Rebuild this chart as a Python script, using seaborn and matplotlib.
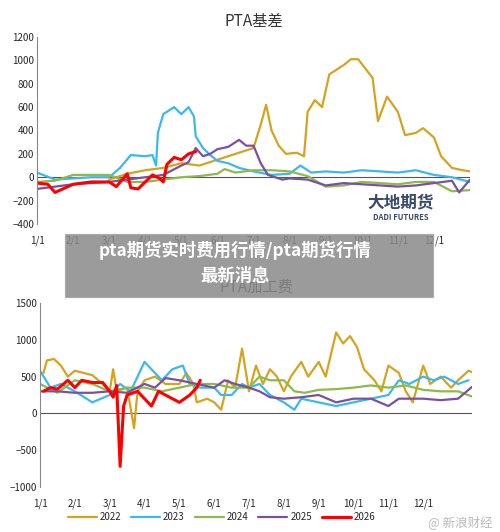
import numpy as np
import pandas as pd
import seaborn as sns
from matplotlib import pyplot as plt
from matplotlib.patches import Rectangle

sns.set_style('white')
plt.rcParams['font.family'] = ['Noto Sans CJK SC', 'DejaVu Sans']

months = ['1/1','2/1','3/1','4/1','5/1','6/1','7/1','8/1','9/1','10/1','11/1','12/1']
years = ['2022','2023','2024','2025','2026']
colors = {'2022':'#D4A420','2023':'#3CB8EE','2024':'#8CBA4C','2025':'#7B50A2','2026':'#FF0000'}

#%% PTA basis (x in months since 1/1)
basis_2022 = [(2.0,-20),(2.5,30),(3.0,60),(3.5,80),(4.0,120),(4.5,100),(5.0,150),(5.5,200),(6.0,250),(6.2,450),
              (6.35,620),(6.5,400),(6.7,270),(6.9,200),(7.2,210),(7.4,180),(7.5,560),(7.7,660),(7.9,600),(8.1,880),
              (8.3,920),(8.5,960),(8.7,1010),(8.9,1010),(9.3,850),(9.45,480),(9.7,690),(10.0,560),(10.2,360),
              (10.5,380),(10.7,420),(11.0,340),(11.2,180),(11.5,80),(11.8,60),(12.0,50)]
basis_2023 = [(0,40),(0.5,-20),(1.0,-10),(1.5,0),(2.0,0),(2.3,80),(2.6,190),(3.0,180),(3.2,190),(3.3,100),(3.35,380),
              (3.5,540),(3.8,600),(4.0,540),(4.2,600),(4.35,520),(4.4,350),(4.6,250),(4.8,190),(5.0,140),(5.3,120),
              (5.6,80),(6.0,50),(6.5,20),(7.0,30),(7.3,100),(7.6,40),(8.0,50),(8.5,40),(9.0,60),(9.5,50),(10.0,40),
              (10.5,60),(11.0,20),(11.5,0),(12.0,-40)]
basis_2024 = [(0,-40),(0.5,-30),(1.0,20),(1.5,20),(2.0,20),(2.5,-40),(3.0,-40),(3.5,-20),(4.0,0),(4.5,10),(5.0,30),
              (5.2,70),(5.5,40),(6.0,60),(6.5,60),(7.0,50),(7.5,10),(8.0,-80),(8.5,-70),(9.0,-40),(9.5,-50),(10.0,-60),
              (10.5,-40),(11.0,-40),(11.5,-120),(12.0,-110)]
basis_2025 = [(0,-100),(0.5,-80),(1.0,-60),(1.5,-50),(2.0,-40),(2.5,-20),(3.0,0),(3.5,20),(4.0,100),(4.2,130),(4.4,250),
              (4.6,180),(4.8,200),(5.0,240),(5.3,260),(5.6,320),(5.8,270),(6.0,270),(6.2,120),(6.4,20),(6.8,-20),
              (7.0,-10),(7.5,-20),(8.0,-70),(8.5,-50),(9.0,-60),(9.5,-70),(10.0,-80),(10.5,-70),(11.0,-50),(11.5,-30),
              (11.7,-130),(12.0,-20)]
basis_2026 = [(0,-50),(0.3,-60),(0.5,-130),(1.0,-60),(1.5,-40),(2.0,-40),(2.2,-80),(2.5,30),(2.6,-90),(2.8,-100),
              (3.0,-40),(3.2,20),(3.4,-10),(3.5,-40),(3.6,110),(3.8,170),(4.0,150),(4.2,200),(4.4,220)]

#%% PTA processing fee
fee_2022 = [(0.1,550),(0.2,720),(0.4,740),(0.6,650),(0.8,500),(1.0,580),(1.5,520),(1.8,400),(2.0,300),(2.1,600),
            (2.2,300),(2.5,350),(2.7,-200),(2.8,300),(3.0,450),(3.3,500),(3.6,400),(4.0,400),(4.2,550),(4.4,400),
            (4.5,150),(4.8,200),(5.0,150),(5.2,50),(5.4,450),(5.6,350),(5.8,880),(6.0,300),(6.2,650),(6.4,400),
            (6.6,600),(6.8,500),(7.0,300),(7.2,500),(7.5,700),(7.7,500),(8.0,700),(8.2,500),(8.5,1100),(8.7,950),
            (8.9,1050),(9.1,900),(9.3,600),(9.6,450),(9.8,300),(10.0,650),(10.3,550),(10.5,300),(10.7,150),
            (11.0,650),(11.2,400),(11.5,500),(11.8,350),(12.0,450),(12.3,580),(12.4,560)]
fee_2023 = [(0,580),(0.3,350),(0.6,400),(1.0,300),(1.5,150),(2.0,250),(2.3,400),(2.6,300),(2.8,500),(3.0,700),
            (3.2,600),(3.5,450),(3.8,600),(4.1,650),(4.3,400),(4.6,350),(5.0,350),(5.2,250),(5.5,250),(5.8,400),
            (6.0,350),(6.3,400),(6.6,250),(7.0,150),(7.3,50),(7.5,200),(8.0,150),(8.5,100),(9.0,150),(9.5,200),
            (10.0,250),(10.3,450),(10.6,400),(11.0,500),(11.3,450),(11.6,500),(12.0,400),(12.3,450)]
fee_2024 = [(0,400),(0.5,280),(1.0,450),(1.5,400),(2.0,300),(2.5,350),(3.0,350),(3.5,300),(4.0,350),(4.5,400),
            (5.0,400),(5.5,350),(6.0,350),(6.3,500),(6.6,450),(7.0,450),(7.3,300),(7.6,280),(8.0,320),(8.5,330),
            (9.0,350),(9.5,380),(10.0,350),(10.5,380),(11.0,320),(11.5,300),(12.0,300),(12.4,230)]
fee_2025 = [(0,300),(0.5,300),(1.0,280),(1.5,280),(2.0,300),(2.5,280),(3.0,400),(3.3,350),(3.6,480),(4.0,450),
            (4.5,400),(5.0,350),(5.3,450),(5.6,400),(6.0,350),(6.3,300),(6.6,220),(7.0,200),(7.5,220),(8.0,250),
            (8.5,150),(9.0,200),(9.5,200),(10.0,100),(10.3,200),(10.6,200),(11.0,200),(11.5,180),(12.0,200),(12.4,360)]
fee_2026 = [(0.1,300),(0.3,350),(0.5,330),(0.8,450),(1.0,350),(1.2,450),(1.5,420),(1.8,420),(2.0,300),(2.1,220),
            (2.2,380),(2.3,-720),(2.4,100),(2.5,250),(2.8,300),(3.0,200),(3.2,100),(3.4,300),(3.6,250),(3.8,200),
            (4.0,150),(4.3,250),(4.5,350),(4.6,450)]

basis = dict(zip(years, [basis_2022, basis_2023, basis_2024, basis_2025, basis_2026]))
fee = dict(zip(years, [fee_2022, fee_2023, fee_2024, fee_2025, fee_2026]))

W, H = 500, 532
fig = plt.figure(figsize=(5.0, 5.32), dpi=100)

def draw(ax, data, ylim, yticks, xmax, title, legend):
    for yr in years:
        df = pd.DataFrame(data[yr], columns=['m', 'v'])
        lw = 2.2 if yr == '2026' else 1.6
        sns.lineplot(data=df, x='m', y='v', color=colors[yr], lw=lw, ax=ax, sort=False, label=yr if legend else None)
    ax.axhline(0, color='#555555', lw=0.8, zorder=0)
    ax.set_xlim(0, xmax)
    ax.set_ylim(*ylim)
    ax.set_yticks(yticks)
    ax.set_xticks(np.arange(12))
    ax.set_xticklabels(months)
    ax.tick_params(labelsize=7, length=0, pad=2)
    ax.tick_params(axis='x', pad=8)
    for s in ['top', 'right', 'bottom']:
        ax.spines[s].set_visible(False)
    ax.spines['left'].set_color('#888888')
    ax.set_xlabel('')
    ax.set_ylabel('')
    ax.set_title(title, fontsize=11, color='#333333', pad=8)

ax1 = fig.add_axes([37/W, 1-224/H, 433/W, 187/H])
draw(ax1, basis, (-400, 1200), np.arange(-400, 1201, 200), 12.0, 'PTA基差', False)
ax1.text(0.84, 0.09, '大地期货', transform=ax1.transAxes, fontsize=12, weight='bold', color='#3A4A6A', ha='center')
ax1.text(0.84, 0.02, 'DADI FUTURES', transform=ax1.transAxes, fontsize=5.5, weight='bold', color='#3A4A6A', ha='center')

ax2 = fig.add_axes([40/W, 1-487/H, 432/W, 184/H])
draw(ax2, fee, (-1000, 1500), np.arange(-1000, 1501, 500), 12.4, 'PTA加工费', True)
ax2.legend(ncol=5, loc='upper center', bbox_to_anchor=(0.42, -0.09), frameon=False, fontsize=7,
           handlelength=3, columnspacing=1.0, handletextpad=0.3)
fig.text(0.985, 0.012, '@ 新浪财经', fontsize=9, color='#BBBBBB', ha='right')

fig.patches.append(Rectangle((64/W, 1-298/H), 370/W, 65/H, transform=fig.transFigure,
                             facecolor='#8a8a8a', alpha=0.85, zorder=10))
fig.text(0.47, 1-250/H, 'pta期货实时费用行情/pta期货行情', ha='center', va='center', fontsize=12.5,
         weight='bold', color='white', zorder=11)
fig.text(0.47, 1-276/H, '最新消息', ha='center', va='center', fontsize=12.5,
         weight='bold', color='white', zorder=11)

fig.savefig('out.png', dpi=100)
